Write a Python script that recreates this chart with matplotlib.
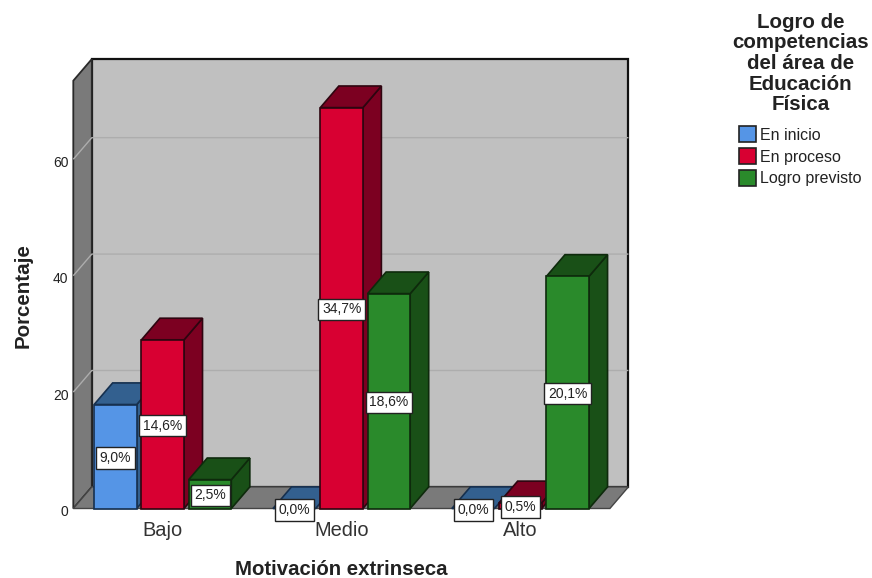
import matplotlib
matplotlib.use("Agg")
import matplotlib.pyplot as plt
from matplotlib.patches import Patch, Polygon
from matplotlib.transforms import ScaledTranslation

plt.rcParams["font.family"] = ["Liberation Sans", "DejaVu Sans"]

# --- data ---
categories = ["Bajo", "Medio", "Alto"]
series = ["En inicio", "En proceso", "Logro previsto"]
en_inicio = [9.0, 0.0, 0.0]
en_proceso = [14.6, 34.7, 0.5]
logro_previsto = [2.5, 18.6, 20.1]
y_ticks = [0, 20, 40, 60]

# the bars are labelled with % of total, the axis runs on about twice that
axis_per_label = 1.985

front_colors = ["#5595E6", "#D80032", "#2A8A2B"]
dark_colors = ["#33608F", "#7C0021", "#195017"]
edge_colors = ["#16304F", "#2E0510", "#0E2A0C"]
wall_color = "#C0C0C0"
side_color = "#7A7A7A"
grid_color = "#ADADAD"
text_color = "#222222"

W, H = 872, 578
fig = plt.figure(figsize=(W / 100, H / 100), dpi=100)
ax = fig.add_axes([73.3 / W, 1 - 508.5 / H, 536.6 / W, 427.8 / H])
ax.set_xlim(-0.5, 2.5)
ax.set_ylim(0, 73.5)
for s in ax.spines.values():
    s.set_visible(False)
ax.patch.set_visible(False)

# depth of the box and of the bars, in data units
dx = 18.5 / 178.9
dy = 21.6 / 5.82
x0, x1 = ax.get_xlim()
y1 = ax.get_ylim()[1]


def poly(pts, fc, ec="#111111", lw=1.2, z=2):
    ax.add_patch(Polygon(pts, closed=True, fc=fc, ec=ec, lw=lw, zorder=z,
                         clip_on=False, joinstyle="miter"))


# --- box: back wall, left wall, floor ---
poly([(x0 + dx, dy), (x1 + dx, dy), (x1 + dx, y1 + dy), (x0 + dx, y1 + dy)], wall_color, z=1, lw=1.6)
poly([(x0, 0), (x0 + dx, dy), (x0 + dx, y1 + dy), (x0, y1)], side_color, ec="#2A2A2A", z=1, lw=1.3)
poly([(x0, 0), (x1, 0), (x1 + dx, dy), (x0 + dx, dy)], side_color, ec="#444444", z=1, lw=1.0)

for t in y_ticks[1:]:
    ax.plot([x0, x0 + dx, x1 + dx], [t, t + dy, t + dy], color=grid_color, lw=1.0,
            zorder=1.5, clip_on=False, solid_capstyle="butt")

# --- bars, left to right so each one covers the side of the previous ---
bar_w = 0.238
step = 0.2645
labels = []
for i, cat in enumerate(categories):
    for j, vals in enumerate([en_inicio, en_proceso, logro_previsto]):
        h = vals[i] * axis_per_label
        left = i + (j - 1) * step - bar_w / 2
        right = left + bar_w
        ec = edge_colors[j]
        poly([(right, 0), (right + dx, dy), (right + dx, h + dy), (right, h)], dark_colors[j], ec=ec, z=3)
        poly([(left, h), (right, h), (right + dx, h + dy), (left + dx, h + dy)], dark_colors[j], ec=ec, z=3)
        if h > 0:
            poly([(left, 0), (right, 0), (right, h), (left, h)], front_colors[j], ec=ec, z=3)
        labels.append((left + bar_w / 2, h / 2, vals[i]))

for x, y, v in labels:
    ax.annotate(f"{v:.1f}%".replace(".", ","), (x, y), xytext=(0, -1.0), textcoords="offset points",
                ha="center", va="center", fontsize=10, color=text_color, zorder=5,
                bbox=dict(boxstyle="square,pad=0.26", fc="white", ec="#222222", lw=1.0))

# --- axes text ---
ax.set_xticks(range(len(categories)), categories, fontsize=14.4, color="#333333")
ax.set_yticks(y_ticks, [str(t) for t in y_ticks], fontsize=10, color=text_color)
ax.tick_params(axis="both", length=0)
ax.tick_params(axis="x", pad=9)
ax.tick_params(axis="y", pad=3.5)
# y numbers sit a little under their grid lines
nudge = ScaledTranslation(0, -1.5 / 72, fig.dpi_scale_trans)
for lab in ax.get_yticklabels():
    lab.set_transform(lab.get_transform() + nudge)

fig.text(341 / W, 1 - 569.5 / H, "Motivación extrinseca", ha="center", va="center",
         fontsize=14.7, fontweight="bold", color=text_color)
fig.text(23 / W, 1 - 295.5 / H, "Porcentaje", ha="center", va="center", rotation=90,
         fontsize=14.8, fontweight="bold", color=text_color)

# --- legend ---
handles = [Patch(fc=c, ec="#222222", lw=1.2) for c in front_colors]
leg = fig.legend(handles, series, loc="upper left", bbox_to_anchor=(732 / W, 1 - 13 / H),
                 title="Logro de\ncompetencias\ndel área de\nEducación\nFísica",
                 frameon=False, borderpad=0, borderaxespad=0, fontsize=11.5,
                 handlelength=1.05, handleheight=1.15, handletextpad=0.25, labelspacing=0.34,
                 title_fontproperties={"size": 14.8, "weight": "bold"}, labelcolor=text_color)
leg.get_title().set_linespacing(1.1)
leg.get_title().set_multialignment("center")
leg.get_title().set_color(text_color)
# more room between the title and the entries
leg._legend_box.sep = 9.0

fig.savefig("out.png", dpi=100)
